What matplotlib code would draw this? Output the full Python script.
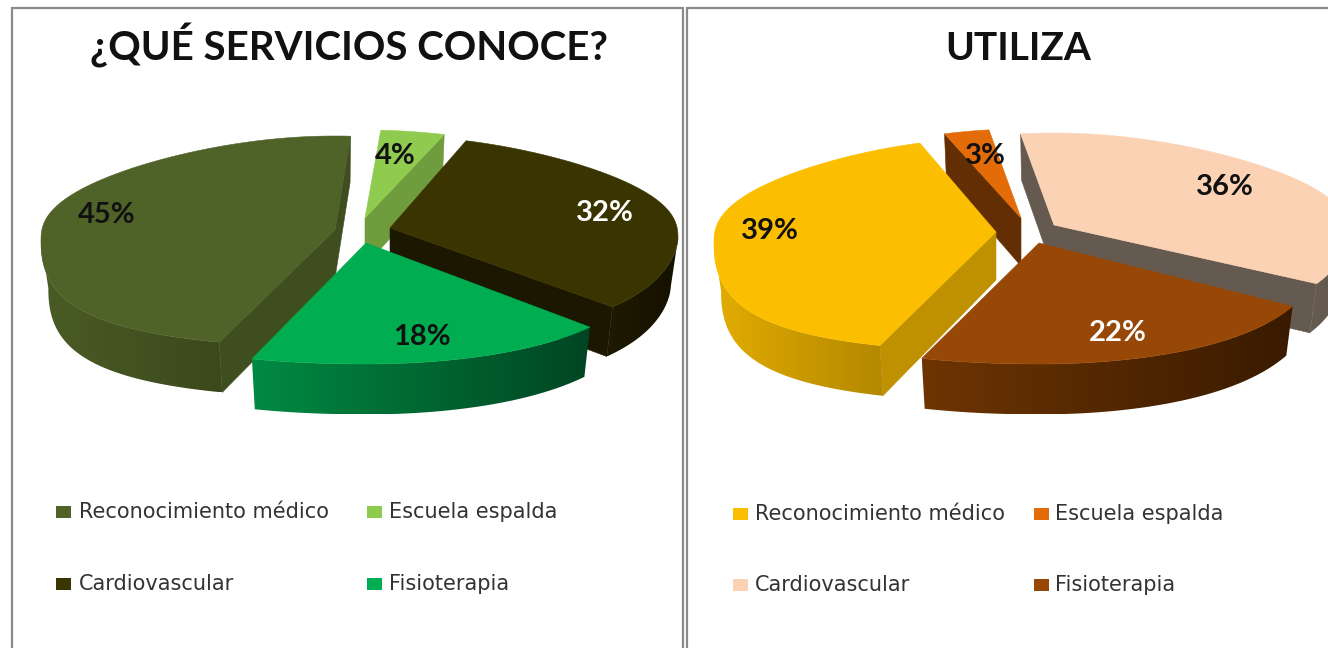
"""Dos tartas 3D separadas: servicios que se conocen y servicios que se utilizan."""

import matplotlib

matplotlib.use("Agg")
import matplotlib.pyplot as plt  # noqa: E402
import numpy as np  # noqa: E402
from matplotlib.colors import to_rgb  # noqa: E402
from matplotlib.patches import Polygon, Rectangle  # noqa: E402

CATEGORIES = ["Reconocimiento médico", "Escuela espalda", "Cardiovascular", "Fisioterapia"]

CONOCE_TITLE = "¿QUÉ SERVICIOS CONOCE?"
CONOCE_VALUES = [45, 4, 32, 18]
UTILIZA_TITLE = "UTILIZA"
UTILIZA_VALUES = [39, 3, 36, 22]

# colores: cara superior, pared, lateral izquierda, lateral derecha
CONOCE_TOP = ["#4F6228", "#8FCB4E", "#3A3400", "#00AD50"]
CONOCE_WALL = ["#3F4E1F", "#6F9C3D", "#1B1700", "#00602C"]
CONOCE_SIDE_L = ["#4A5C25", "#7FB045", "#1F1A00", "#008A42"]
CONOCE_SIDE_R = ["#3B491C", "#6F9C3D", "#151100", "#004522"]
UTILIZA_TOP = ["#FBBE00", "#E36C09", "#FBD3B4", "#974806"]
UTILIZA_WALL = ["#BF9000", "#632E03", "#655A50", "#6B3403"]
UTILIZA_SIDE_L = ["#E2AC00", "#632E03", "#655A50", "#6E3503"]
UTILIZA_SIDE_R = ["#B48800", "#632E03", "#655A50", "#391A00"]

# geometria en pixeles de cada porcion: vertice x, vertice y, rx, ry detras, ry delante
CONOCE_GEOM = [
    (335, 230, 294, 94, 117),
    (365, 218, 300, 88, 100),
    (390, 228, 288, 92, 113),
    (366, 243, 290, 95, 121),
]
UTILIZA_GEOM = [
    (996, 232, 282, 94, 119),
    (1021, 218, 283, 89, 100),
    (1054, 225, 295, 92, 111),
    (1039, 243, 285, 95, 121),
]
DEPTH = 48
SAG = 10
PERSPECTIVE = 0.17

CONOCE_LABEL_POS = [(107, 215), (395, 156), (605, 213), (422, 337)]
CONOCE_LABEL_COL = ["#111111", "#111111", "white", "#111111"]
UTILIZA_LABEL_POS = [(770, 231), (985, 156), (1225, 187), (1118, 333)]
UTILIZA_LABEL_COL = ["#111111", "#111111", "#111111", "white"]


def rim(geom, ang, bottom=False):
    """Puntos del borde de la porcion para angulos en grados (horario desde arriba)."""
    cx, cy, rx, ry_back, ry_front = geom
    a = np.radians(ang)
    s, c = np.sin(a), np.cos(a)
    ry = np.where(c > 0, ry_back, ry_front)
    # el lado izquierdo y el fondo son mas redondos que una elipse
    power = np.where(c > 0, 0.82, np.where(s < 0, 0.85, 1.2))
    x = rx * s * (1 - PERSPECTIVE * c * np.abs(c))
    y = -ry * np.sign(c) * np.abs(c) ** power + SAG * s ** 2
    if bottom:
        return np.column_stack([cx + 0.975 * x, cy + 1.02 * y + DEPTH])
    return np.column_stack([cx + x, cy + y])


def draw_wall(ax, geom, ang, other, color, z):
    cx, cy = geom[:2]
    p = rim(geom, np.array([ang]))[0]
    q = rim(geom, np.array([other]))[0]
    edge = p - np.array([cx, cy])
    inner = q - np.array([cx, cy])
    normal = np.array([-edge[1], edge[0]])
    if normal @ inner > 0:
        normal = -normal
    if normal[1] <= 0:  # pared de atras, no se ve
        return
    pb = rim(geom, np.array([ang]), bottom=True)[0]
    ax.add_patch(Polygon([(cx, cy), p, pb, (cx, cy + DEPTH)], closed=True, zorder=z,
                         facecolor=color, edgecolor=color, linewidth=0.4))


def draw_side(ax, geom, ang, side_l, side_r, z):
    folded = ang % 360
    front = ang[(folded > 90) & (folded < 270)]
    if len(front) < 2:
        return
    outline = np.vstack([rim(geom, front), rim(geom, front, bottom=True)[::-1]])
    x0, x1 = outline[:, 0].min(), outline[:, 0].max()
    y0, y1 = outline[:, 1].min(), outline[:, 1].max()
    frac = np.linspace(0, 1, 256)[:, None]
    grad = np.array(to_rgb(side_l)) + (np.array(to_rgb(side_r)) - np.array(to_rgb(side_l))) * frac
    im = ax.imshow(grad[None, :, :], extent=(x0, x1, y1, y0), aspect="auto", zorder=z)
    im.set_clip_path(Polygon(outline, closed=True, transform=ax.transData))


def draw_slice(ax, geom, a0, a1, top, wall, side_l, side_r, z):
    ang = np.linspace(a0, a1, 160)
    cx, cy = geom[:2]
    draw_wall(ax, geom, a0, a1, wall, z)
    draw_wall(ax, geom, a1, a0, wall, z)
    draw_side(ax, geom, ang, side_l, side_r, z + 0.1)
    pts = np.vstack([[(cx, cy)], rim(geom, ang)])
    ax.add_patch(Polygon(pts, closed=True, facecolor=top, edgecolor=top, linewidth=0.4, zorder=z + 0.2))


def draw_pie(ax, values, start, geoms, tops, walls, sides_l, sides_r, label_pos, label_col):
    sweep = np.array(values, dtype=float) / np.sum(values) * 360
    edges = start + np.concatenate([[0], np.cumsum(sweep)])
    for z, i in enumerate([1, 0, 2, 3]):
        draw_slice(ax, geoms[i], edges[i], edges[i + 1], tops[i], walls[i], sides_l[i], sides_r[i], z + 2)
    for v, (x, y), col in zip(values, label_pos, label_col):
        ax.text(x, y, f"{v}%", ha="center", va="center", color=col, zorder=20,
                fontsize=21, fontweight="bold", family="Lato")


def draw_legend(ax, colors, xs_box, xs_text, ys):
    for i, name in enumerate(CATEGORIES):
        col, row = i % 2, i // 2
        ax.add_patch(Rectangle((xs_box[col], ys[row] - 6), 15, 12, facecolor=colors[i], edgecolor="none"))
        ax.text(xs_text[col], ys[row], name, ha="left", va="center", color="#333333",
                fontsize=15, family="DejaVu Sans")


fig = plt.figure(figsize=(13.28, 6.48), dpi=100)
ax = fig.add_axes([0, 0, 1, 1])
ax.set_xlim(0, 1328)
ax.set_ylim(648, 0)
ax.axis("off")

# marcos de los dos paneles
frame = dict(color="#8A8A8A", linewidth=1.6, solid_capstyle="butt")
ax.plot([12, 12], [7, 648], **frame)
ax.plot([682.5, 682.5], [7, 648], **frame)
ax.plot([686.5, 686.5], [7, 648], **frame)
ax.plot([12, 682.5], [7.5, 7.5], **frame)
ax.plot([686.5, 1328], [7.5, 7.5], **frame)

ax.text(349, 60, CONOCE_TITLE, ha="center", va="baseline", fontsize=29, fontweight="bold",
        family="Lato", color="#111111")
ax.text(1018, 60, UTILIZA_TITLE, ha="center", va="baseline", fontsize=28, fontweight="bold",
        family="Lato", color="#111111")

draw_pie(ax, CONOCE_VALUES, 200, CONOCE_GEOM, CONOCE_TOP, CONOCE_WALL, CONOCE_SIDE_L,
         CONOCE_SIDE_R, CONOCE_LABEL_POS, CONOCE_LABEL_COL)
draw_pie(ax, UTILIZA_VALUES, 201, UTILIZA_GEOM, UTILIZA_TOP, UTILIZA_WALL, UTILIZA_SIDE_L,
         UTILIZA_SIDE_R, UTILIZA_LABEL_POS, UTILIZA_LABEL_COL)

draw_legend(ax, CONOCE_TOP, (56, 367), (79, 389), (511.5, 583.5))
draw_legend(ax, UTILIZA_TOP, (733, 1034), (755, 1055), (514, 585))

fig.savefig("out.png", dpi=100)
plt.close(fig)
